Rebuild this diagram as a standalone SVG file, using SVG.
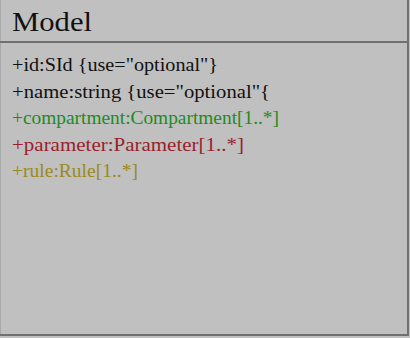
<svg xmlns="http://www.w3.org/2000/svg" width="410" height="338" viewBox="0 0 410 338">
<style>
.t{font-family:"Liberation Serif","DejaVu Serif",serif;font-size:18px}
.line{stroke:#707070;stroke-width:2;fill:none}
</style>
<rect x="0" y="0" width="410" height="338" fill="#c0c0c0"/>
<g id="model">
<rect x="0.5" y="-1" width="407" height="336" fill="#c0c0c0" stroke="#a8a8a8" stroke-width="1"/>
<line class="line" x1="0" y1="42" x2="408" y2="42"/>
<line class="line" x1="408" y1="0" x2="408" y2="336"/>
<line class="line" x1="0" y1="335" x2="408" y2="335"/>
<text x="12" y="31" font-family="Liberation Serif,serif" font-size="27" fill="#111" textLength="80" lengthAdjust="spacingAndGlyphs">Model</text>
<text class="t" x="12" y="71" fill="#111" textLength="206" lengthAdjust="spacingAndGlyphs">+id:SId {use="optional"}</text>
<text class="t" x="12" y="97.5" fill="#111" textLength="258" lengthAdjust="spacingAndGlyphs">+name:string {use="optional"{</text>
<text class="t" x="12" y="124" fill="#1f8a1f" textLength="267" lengthAdjust="spacingAndGlyphs">+compartment:Compartment[1..*]</text>
<text class="t" x="12" y="151" fill="#9a1f2c" textLength="232" lengthAdjust="spacingAndGlyphs">+parameter:Parameter[1..*]</text>
<text class="t" x="12" y="177" fill="#9a8a1a" textLength="126" lengthAdjust="spacingAndGlyphs">+rule:Rule[1..*]</text>
</g>
</svg>
